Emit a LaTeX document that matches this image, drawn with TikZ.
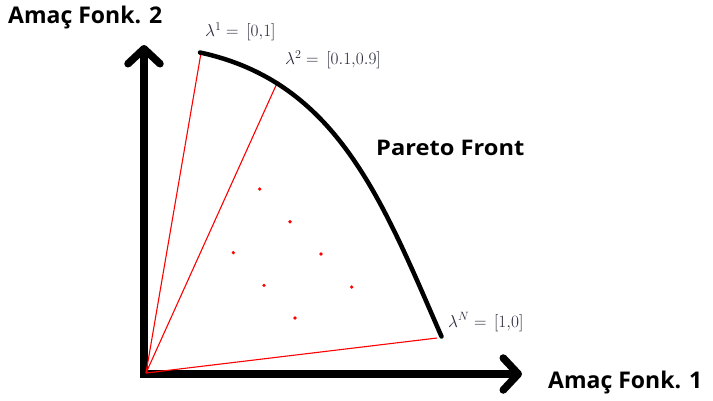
\documentclass[tikz,border=0pt]{standalone}
\usepackage{fontspec}
\newfontfamily\osfont{Open Sans}
\usetikzlibrary{arrows.meta}
\definecolor{lblgray}{rgb}{0.15,0.15,0.22}
\tikzset{
  axisline/.style={line width=7.5pt, line join=miter},
  axistip/.style={-{Straight Barb[length=15pt,width=32pt,round]}},
  weightline/.style={red, line width=1.1pt},
  frontline/.style={line width=4.5pt, line cap=round, line join=round},
  bigbold/.style={font=\osfont\bfseries\fontsize{23}{26}\selectfont, inner sep=0pt, anchor=west},
  midbold/.style={font=\osfont\bfseries\fontsize{21.5}{24}\selectfont, inner sep=0pt, anchor=west},
  lamlabel/.style={font=\fontsize{17}{20}\selectfont, text=lblgray, inner sep=0pt, anchor=west},
  sol/.style={circle, fill=red, inner sep=0pt, minimum size=3.6pt}
}
\begin{document}
\begin{tikzpicture}[x=1pt,y=-1pt]
\useasboundingbox (0,0) rectangle (713,400);
% axes
\coordinate (C) at (144,374);
\coordinate (Y) at (144,45);
\coordinate (X) at (522,374);
\coordinate (R) at (146,373);
\draw[axisline, axistip] (C) -- (Y);
\draw[axisline, axistip] (C) ++(-3.75,0) -- (X);
% pareto front points
\coordinate (P1) at (201,53);
\coordinate (P2) at (278,81);
\coordinate (PN) at (437,338);
% weight lines
\draw[weightline] (R) -- (P1);
\draw[weightline] (R) -- (P2);
\draw[weightline] (R) -- (PN);
% front
\draw[frontline] (200,52.5) .. controls (337,82) and (382,200) .. (441.5,336.5);
% solutions
\node[sol] (s1) at (259.7,189) {};
\node[sol] (s2) at (290,221.7) {};
\node[sol] (s3) at (233.3,252.7) {};
\node[sol] (s4) at (321,254) {};
\node[sol] (s5) at (264,285.3) {};
\node[sol] (s6) at (351.7,287) {};
\node[sol] (s7) at (295,318) {};
% labels
\node[bigbold] (ylab) at (8,18) {Amaç Fonk. 2};
\node[bigbold] (xlab) at (548,383) {Amaç Fonk. 1};
\node[midbold] (pf) at (376,148) {\scalebox{1.1}[1]{Pareto Front}};
\node[lamlabel] (l1) at (205,32) {$\lambda^{1}=\,[0{,}1]$};
\node[lamlabel] (l2) at (285,60) {$\lambda^{2}=\,[0.1{,}0.9]$};
\node[lamlabel] (lN) at (448,322) {$\lambda^{N}=\,[1{,}0]$};
\end{tikzpicture}
\end{document}
